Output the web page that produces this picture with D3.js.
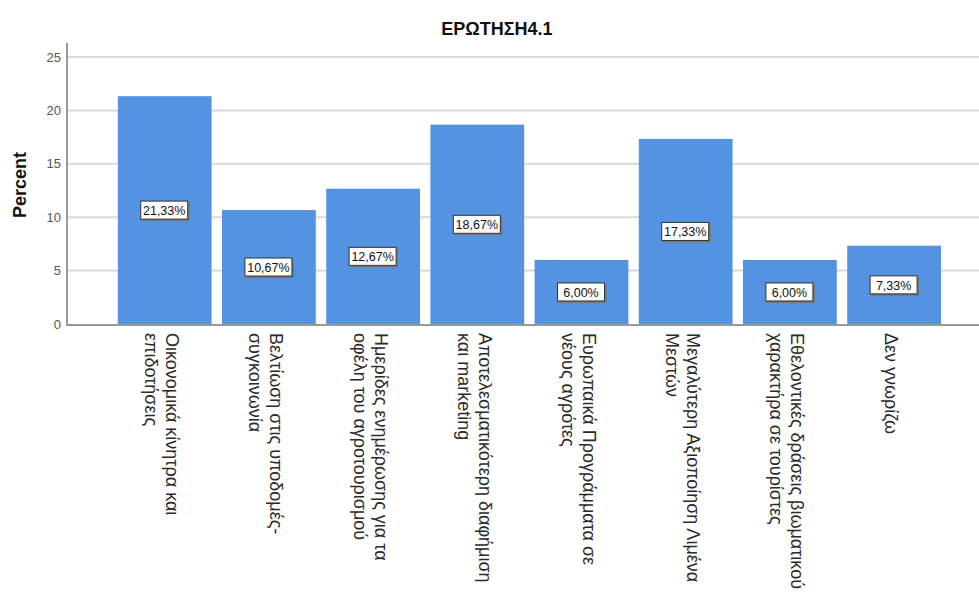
<!DOCTYPE html>
<html><head><meta charset="utf-8">
<script src="https://cdn.jsdelivr.net/npm/d3@7"></script>
<style>html,body{margin:0;padding:0;background:#fff;overflow:hidden}</style>
</head><body>
<svg id="chart" width="979" height="599"></svg>
<script>
const title = "ΕΡΩΤΗΣΗ4.1";
const categories = [
  ["Οικονομικά κίνητρα και", "επιδοτήσεις"],
  ["Βελτίωση στις υποδομές-", "συγκοινωνία"],
  ["Ημερίδες ενημέρωσης για τα", "οφέλη του αγροτουρισμού"],
  ["Αποτελεσματικότερη διαφήμιση", "και marketing"],
  ["Ευρωπαικά Προγράμματα σε", "νέους αγρότες"],
  ["Μεγαλύτερη Αξιοποίηση Λιμένα", "Μεστών"],
  ["Εθελοντικές δράσεις βιωματικού", "χαρακτήρα σε τουρίστες"],
  ["Δεν γνωρίζω"]
];
const percents = [21.33, 10.67, 12.67, 18.67, 6.00, 17.33, 6.00, 7.33];
const yTicks = [0, 5, 10, 15, 20, 25];
const yLabel = "Percent";

const svg = d3.select("#chart");
const ids = categories.map((c, i) => i);
const FONT = "Arial, 'Liberation Sans', sans-serif";

const x = d3.scaleBand().domain(ids).range([112.6, 946.2]).paddingInner(0.1).paddingOuter(0.05);
const y = d3.scaleLinear().domain([0, 25]).range([324, 57]);

// gridlines
svg.append("g").selectAll("line").data(yTicks.filter(t => t > 0)).join("line")
  .attr("x1", 67).attr("x2", 979)
  .attr("y1", d => y(d)).attr("y2", d => y(d))
  .attr("stroke", "#dadada").attr("stroke-width", 2);

// bars
svg.append("g").selectAll("rect").data(percents).join("rect")
  .attr("x", (d, i) => x(i)).attr("width", x.bandwidth())
  .attr("y", d => y(d)).attr("height", d => y(0) - y(d))
  .attr("fill", "#5393e2");

// axes
const yAxis = d3.axisLeft(y).tickValues(yTicks).tickSize(0).tickPadding(6);
const gy = svg.append("g").attr("transform", "translate(67,0)").call(yAxis);
gy.select(".domain").remove();
gy.selectAll("text").attr("font-family", FONT)
  .attr("font-size", 13).attr("fill", "#555");
svg.append("line").attr("x1", 67).attr("x2", 67).attr("y1", 43).attr("y2", 325)
  .attr("stroke", "#999").attr("stroke-width", 2);
svg.append("line").attr("x1", 66).attr("x2", 979).attr("y1", 325).attr("y2", 325)
  .attr("stroke", "#999").attr("stroke-width", 2);

// value labels
const lab = svg.append("g").selectAll("g").data(percents).join("g")
  .attr("transform", (d, i) => `translate(${x(i) + x.bandwidth() / 2},${(y(d) + y(0)) / 2})`);
lab.append("rect").attr("x", -23).attr("y", -8).attr("width", 48).attr("height", 19)
  .attr("fill", "#777");
lab.append("rect").attr("x", -24).attr("y", -9).attr("width", 47).attr("height", 18)
  .attr("fill", "#fff").attr("stroke", "#333").attr("stroke-width", 1);
lab.append("text").attr("x", -0.5).attr("y", 5).attr("text-anchor", "middle")
  .attr("font-family", FONT).attr("font-size", 12.5)
  .attr("fill", "#111")
  .text(d => d.toFixed(2).replace(".", ",") + "%");

// x labels rotated
const xl = svg.append("g").selectAll("text").data(categories).join("text")
  .attr("transform", (d, i) => `translate(${x(i) + x.bandwidth() / 2},333) rotate(90)`)
  .attr("font-family", FONT).attr("font-size", 18)
  .attr("fill", "#2a2a2a");
xl.each(function(lines) {
  const t = d3.select(this);
  const n = lines.length;
  lines.forEach((s, j) => {
    const off = -3 + (n - 1) * 10.5 - 21 * j - 6;
    t.append("tspan").attr("x", 0).attr("y", -off).text(s);
  });
});

// y title
svg.append("text").attr("transform", "translate(26,185) rotate(-90)")
  .attr("text-anchor", "middle").attr("font-family", FONT)
  .attr("font-size", 18).attr("font-weight", "bold").attr("fill", "#111").text(yLabel);

// title
svg.append("text").attr("x", 497).attr("y", 35).attr("text-anchor", "middle")
  .attr("font-family", FONT)
  .attr("font-size", 18).attr("font-weight", "bold").attr("fill", "#111").text(title);
</script>
</body></html>
